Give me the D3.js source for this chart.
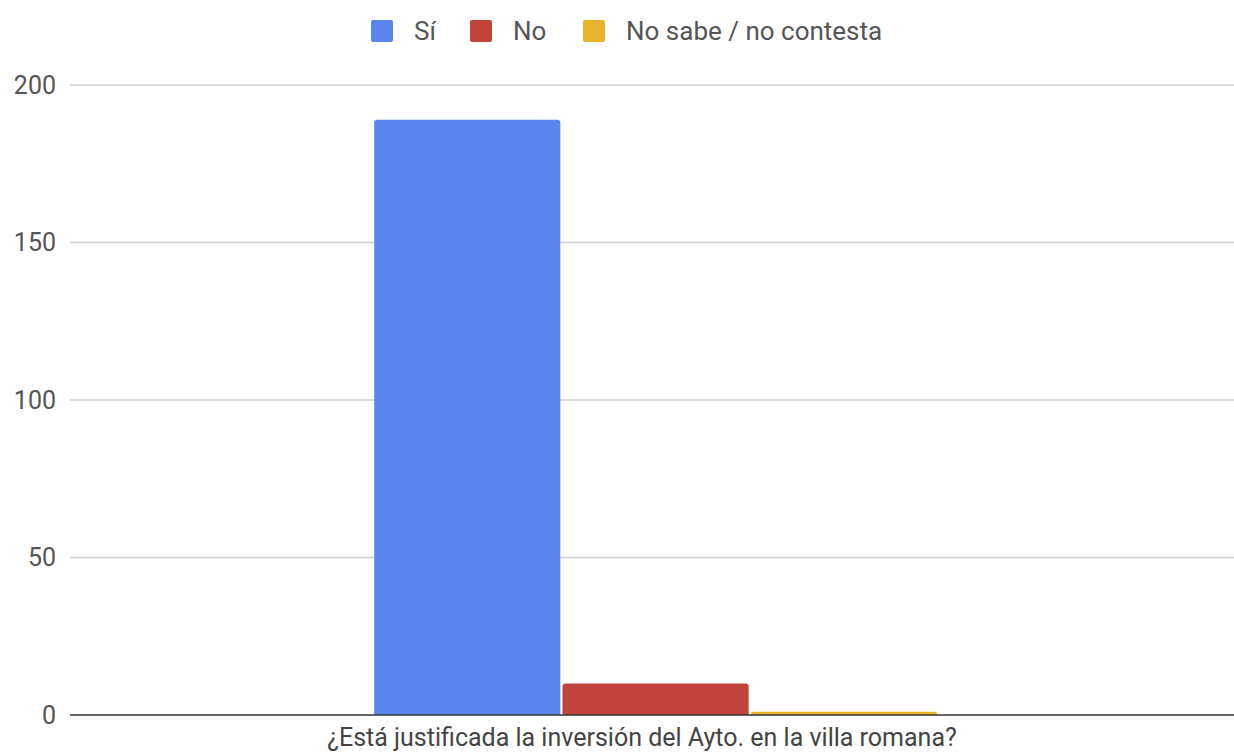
<!DOCTYPE html>
<html>
<head>
<meta charset="utf-8">
<script src="https://cdn.jsdelivr.net/npm/d3@7"></script>
<style>
  body { margin: 0; background: #fff; }
  text { font-family: Roboto, "Noto Sans", sans-serif; }
</style>
</head>
<body>
<div id="chart-area"></div>
<script>
// data
var categories = ['¿Está justificada la inversión del Ayto. en la villa romana?'];
var seriesNames = ['Sí', 'No', 'No sabe / no contesta'];
var seriesValues = [189, 10, 1];
var seriesColors = ['#5a84ee', '#c0443a', '#e5b22a'];
var yTicks = [0, 50, 100, 150, 200];

var W = 1234, H = 753;
var margin = { left: 70, right: 0, top: 85, bottom: 38 };
var width = W - margin.left - margin.right;
var height = H - margin.top - margin.bottom;

var svg = d3.select('#chart-area').append('svg')
    .attr('width', W)
    .attr('height', H);

var g = svg.append('g')
    .attr('transform', 'translate(' + margin.left + ',' + margin.top + ')');

var x0 = d3.scaleBand()
    .domain(categories)
    .range([0, width])
    .paddingInner(0)
    .paddingOuter(0.534)
    .align(0.506);

var x1 = d3.scaleBand()
    .domain(seriesNames)
    .range([0, x0.bandwidth()])
    .paddingInner(0.012);

var y = d3.scaleLinear()
    .domain([0, 200])
    .range([height, 0]);

// gridlines
g.selectAll('.grid').data(yTicks.filter(d => d > 0)).enter().append('line')
    .attr('class', 'grid')
    .attr('x1', 0).attr('x2', width)
    .attr('y1', d => y(d)).attr('y2', d => y(d))
    .attr('stroke', '#d0d0d0')
    .attr('stroke-width', 1.5);

// y labels
g.selectAll('.ylab').data(yTicks).enter().append('text')
    .attr('class', 'ylab')
    .attr('x', -14)
    .attr('y', d => y(d))
    .attr('dy', '0.35em')
    .attr('text-anchor', 'end')
    .attr('fill', '#555')
    .attr('font-size', '25px')
    .text(d => d);

// bars with rounded top corners
function barPath(x, yTop, w, h, r) {
    r = Math.min(r, h, w / 2);
    return 'M' + x + ',' + (yTop + h) +
        'V' + (yTop + r) +
        'Q' + x + ',' + yTop + ' ' + (x + r) + ',' + yTop +
        'H' + (x + w - r) +
        'Q' + (x + w) + ',' + yTop + ' ' + (x + w) + ',' + (yTop + r) +
        'V' + (yTop + h) + 'Z';
}

var cat = g.append('g')
    .attr('transform', 'translate(' + x0(categories[0]) + ',0)');

cat.selectAll('path').data(seriesNames).enter().append('path')
    .attr('d', (d, i) => barPath(x1(d), y(seriesValues[i]), x1.bandwidth(), height - y(seriesValues[i]), 3))
    .attr('fill', (d, i) => seriesColors[i]);

// baseline
g.append('line')
    .attr('x1', 0).attr('x2', width)
    .attr('y1', height).attr('y2', height)
    .attr('stroke', '#333')
    .attr('stroke-width', 1.5);

// x label
g.append('text')
    .attr('x', width / 2 - 10)
    .attr('y', height + 31)
    .attr('text-anchor', 'middle')
    .attr('fill', '#444')
    .attr('font-size', '25px')
    .text(categories[0]);

// legend
var legendX = [371, 470, 583];
var legend = svg.append('g');
seriesNames.forEach((s, i) => {
    legend.append('rect')
        .attr('x', legendX[i]).attr('y', 20)
        .attr('width', 22).attr('height', 22)
        .attr('rx', 2)
        .attr('fill', seriesColors[i]);
    legend.append('text')
        .attr('x', legendX[i] + 43)
        .attr('y', 31)
        .attr('dy', '0.35em')
        .attr('fill', '#555')
        .attr('font-size', '26px')
        .text(s);
});
</script>
</body>
</html>
